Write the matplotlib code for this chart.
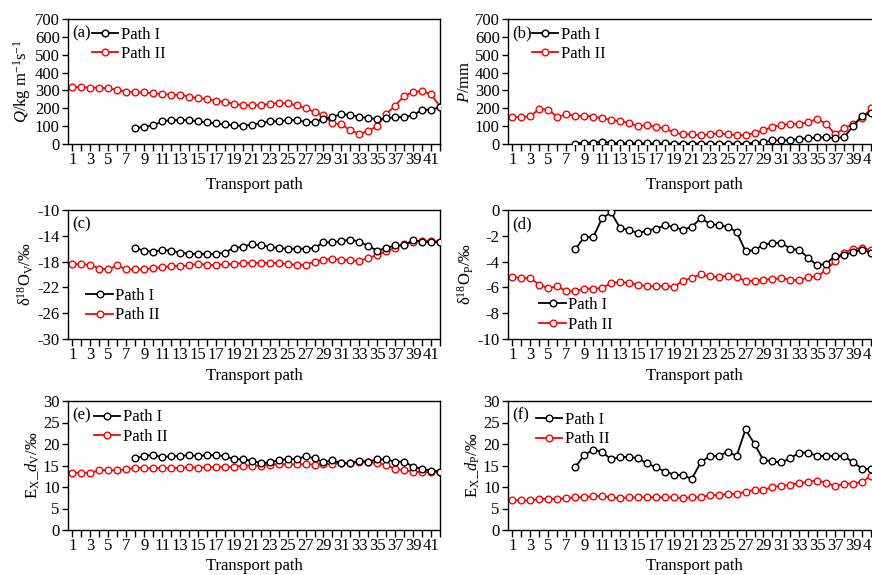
import numpy as np
import matplotlib
matplotlib.use('Agg')
import matplotlib.pyplot as plt

plt.rcParams['font.family'] = ['Liberation Serif', 'DejaVu Serif']
plt.rcParams['mathtext.fontset'] = 'custom'
plt.rcParams['mathtext.rm'] = 'Liberation Serif'
plt.rcParams['mathtext.it'] = 'Liberation Serif:italic'
plt.rcParams['axes.unicode_minus'] = False
plt.rcParams['font.size'] = 11

# transport path index
x2_left = np.arange(1, 43)
x1_left = np.arange(8, 43)
x2_right = np.arange(1, 42)
x1_right = np.arange(8, 42)

# (a) water vapour flux Q
q_p1 = [88, 97, 104, 127, 134, 134, 134, 127, 121, 115, 110, 104, 102, 108, 117, 127, 127,
        134, 134, 123, 123, 140, 151, 168, 162, 153, 145, 140, 143, 151, 151, 160, 192, 192, 207]
q_p2 = [318, 318, 316, 316, 311, 304, 294, 289, 289, 283, 281, 276, 276, 265, 257, 251, 242,
        236, 225, 218, 216, 218, 223, 231, 227, 216, 201, 179, 160, 117, 110, 76, 58, 71, 102,
        168, 214, 270, 289, 298, 278, 210]

# (b) precipitation P
p_p1 = [2, 8, 8, 12, 8, 4, 4, 4, 3, 3, 3, 2, 2, 2, 2, 2, 2, 2, 2, 2, 7, 9, 20, 20, 22, 28,
        33, 37, 37, 33, 38, 100, 158, 172]
p_p2 = [151, 151, 156, 197, 192, 151, 166, 158, 158, 153, 145, 134, 128, 117, 101, 106, 95,
        88, 65, 54, 54, 48, 54, 60, 54, 50, 50, 61, 78, 95, 106, 112, 112, 123, 140, 112, 54,
        88, 112, 145, 199]

# (c) d18O vapour
ov_p1 = [-15.9, -16.3, -16.5, -16.2, -16.3, -16.6, -16.8, -16.8, -16.8, -16.8, -16.6, -15.9,
         -15.7, -15.3, -15.5, -15.7, -15.9, -16.0, -16.0, -16.0, -15.9, -15.0, -15.0, -14.8,
         -14.6, -14.9, -15.6, -16.3, -15.9, -15.5, -15.5, -14.7, -14.9, -15.0, -14.9]
ov_p2 = [-18.4, -18.4, -18.5, -19.1, -19.2, -18.6, -19.2, -19.2, -19.2, -19.0, -18.9, -18.7,
         -18.7, -18.6, -18.3, -18.5, -18.5, -18.4, -18.4, -18.2, -18.2, -18.2, -18.2, -18.2,
         -18.4, -18.5, -18.5, -18.0, -17.7, -17.6, -17.7, -17.8, -17.9, -17.4, -17.0, -16.4,
         -15.9, -15.2, -14.9, -14.8, -14.8, -14.9]

# (d) d18O precipitation
op_p1 = [-3.05, -2.1, -2.1, -0.65, -0.18, -1.4, -1.55, -1.8, -1.6, -1.45, -1.2, -1.3, -1.55,
         -1.3, -0.65, -1.05, -1.2, -1.3, -1.7, -3.2, -3.1, -2.7, -2.55, -2.55, -3.0, -3.1,
         -3.7, -4.3, -4.15, -3.55, -3.5, -3.25, -3.1, -3.3]
op_p2 = [-5.2, -5.25, -5.3, -5.8, -6.05, -5.9, -6.3, -6.3, -6.1, -6.1, -6.05, -5.65, -5.6,
         -5.65, -5.8, -5.9, -5.9, -5.9, -5.95, -5.5, -5.25, -5.0, -5.15, -5.2, -5.1, -5.2,
         -5.5, -5.5, -5.4, -5.35, -5.3, -5.4, -5.45, -5.2, -5.15, -4.65, -3.95, -3.3, -3.0,
         -2.97, -3.1]

# (e) d-excess vapour
dv_p1 = [16.7, 17.2, 17.5, 16.9, 17.2, 17.2, 17.4, 17.2, 17.4, 17.4, 17.2, 16.5, 16.5, 16.1,
         15.6, 15.7, 16.2, 16.5, 16.5, 17.1, 16.7, 15.7, 16.2, 15.5, 15.5, 16.1, 15.9, 16.4,
         16.4, 15.9, 15.9, 14.7, 14.2, 13.8, 13.6]
dv_p2 = [13.3, 13.3, 13.3, 13.9, 13.9, 13.9, 14.1, 14.5, 14.4, 14.4, 14.4, 14.4, 14.4, 14.6,
         14.5, 14.6, 14.6, 14.6, 14.7, 15.0, 15.0, 15.0, 15.2, 15.3, 15.3, 15.3, 15.3, 15.2,
         15.3, 15.3, 15.6, 15.6, 15.8, 15.8, 15.6, 15.1, 14.2, 13.9, 13.6, 13.4, 13.5, 13.6]

# (f) d-excess precipitation
dp_p1 = [14.6, 17.4, 18.7, 18.2, 16.4, 17.0, 17.0, 16.7, 15.5, 14.6, 13.6, 12.9, 12.7, 11.9,
         15.7, 17.2, 17.2, 18.2, 17.2, 23.4, 20.0, 16.2, 16.0, 15.7, 16.7, 18.0, 18.0, 17.2,
         17.2, 17.2, 17.2, 15.7, 14.3, 14.1]
dp_p2 = [6.9, 6.9, 6.9, 7.2, 7.2, 7.2, 7.4, 7.6, 7.6, 7.9, 7.9, 7.6, 7.4, 7.6, 7.6, 7.6, 7.6,
         7.6, 7.6, 7.4, 7.6, 7.6, 8.1, 8.1, 8.4, 8.4, 8.9, 9.3, 9.3, 10.0, 10.3, 10.5, 10.9,
         11.2, 11.5, 11.0, 10.2, 10.8, 10.8, 11.2, 12.6]

fig = plt.figure(figsize=(8.72, 5.75), dpi=100)
W, H = 872.0, 575.0


def make_ax(left, top, bottom, width=372):
    return fig.add_axes([left / W, 1 - bottom / H, width / W, (bottom - top) / H])


def draw(ax, x1, y1, x2, y2, ylim, ystep, ylabel, tag, leg_anchor, xpad):
    ax.plot(x1, y1, color='black', lw=1.3, marker='o', ms=4.8, mfc='white',
            mec='black', mew=1.0, label='Path I', zorder=3)
    ax.plot(x2, y2, color='red', lw=1.3, marker='o', ms=4.8, mfc='white',
            mec='red', mew=1.0, label='Path II', zorder=2)
    ax.set_xlim(0.5, 42)
    ax.set_ylim(*ylim)
    ax.set_xticks(np.arange(1, 42, 2))
    ax.set_xticks(np.arange(1, 43), minor=True)
    ax.set_yticks(np.arange(ylim[0], ylim[1] + ystep / 2, ystep))
    ax.tick_params(axis='x', which='both', direction='out', length=5, width=1, pad=1)
    ax.tick_params(axis='y', which='major', direction='out', length=4, width=1, pad=2)
    ax.tick_params(labelsize=12)
    for s in ax.spines.values():
        s.set_linewidth(1.0)
    ax.set_xlabel('Transport path', fontsize=12, labelpad=xpad)
    ax.set_ylabel(ylabel, fontsize=12, labelpad=1)
    ax.text(0.012, 0.95, tag, transform=ax.transAxes, fontsize=12, va='top', ha='left')
    ax.legend(loc='upper left', bbox_to_anchor=leg_anchor, frameon=False, fontsize=12,
              handlelength=1.6, handletextpad=0.15, labelspacing=0.2, borderpad=0.2,
              borderaxespad=0)


ax = make_ax(68, 19, 144)
draw(ax, x1_left, q_p1, x2_left, q_p2, (0, 700), 100,
     r'$Q$/kg m$^{\mathregular{-1}}$s$^{\mathregular{-1}}$', '(a)', (0.055, 0.965), 6.5)

ax = make_ax(508, 19, 144)
draw(ax, x1_right, p_p1, x2_right, p_p2, (0, 700), 100,
     r'$P$/mm', '(b)', (0.055, 0.965), 6.5)

ax = make_ax(68, 210, 339)
draw(ax, x1_left, ov_p1, x2_left, ov_p2, (-30, -10), 4,
     r'δ$^{\mathregular{18}}$O$_{\mathregular{V}}$/‰', '(c)', (0.04, 0.42), 3)

ax = make_ax(508, 210, 339)
draw(ax, x1_right, op_p1, x2_right, op_p2, (-10, 0), 2,
     r'δ$^{\mathregular{18}}$O$_{\mathregular{P}}$/‰', '(d)', (0.075, 0.35), 3)

ax = make_ax(68, 401, 530)
draw(ax, x1_left, dv_p1, x2_left, dv_p2, (0, 30), 5,
     r'E$_{\mathregular{X}}$_$d_{\mathregular{V}}$/‰', '(e)', (0.06, 0.96), 3)

ax = make_ax(508, 401, 530)
draw(ax, x1_right, dp_p1, x2_right, dp_p2, (0, 30), 5,
     r'E$_{\mathregular{X}}$_$d_{\mathregular{P}}$/‰', '(f)', (0.065, 0.94), 3)

fig.savefig('out.png', dpi=100)
